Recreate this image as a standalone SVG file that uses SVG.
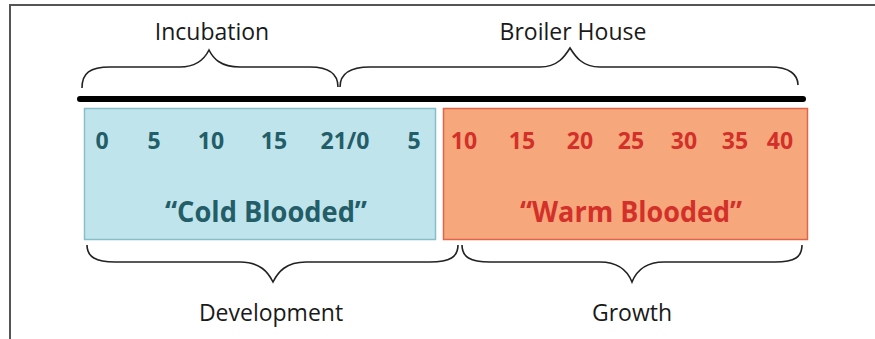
<svg xmlns="http://www.w3.org/2000/svg" width="875" height="339" viewBox="0 0 875 339">
<style>
.lbl{font-family:"Open Sans","Liberation Sans",sans-serif;font-size:23px;fill:#1a1a1a;text-anchor:middle}
.num{font-family:"Open Sans","Liberation Sans",sans-serif;font-size:23px;font-weight:bold;text-anchor:middle}
.big{font-family:"Open Sans","Liberation Sans",sans-serif;font-size:29px;font-weight:bold;text-anchor:middle}
.cold{fill:#235d67}
.warm{fill:#d3302a}
.brace{fill:none;stroke:#222;stroke-width:1.6}
</style>
<rect width="875" height="339" fill="#fff"/>
<path d="M10,339 V5 H875" fill="none" stroke="#555" stroke-width="2"/>
<g id="timeline"><rect x="77" y="96" width="729" height="6" rx="3" fill="#000"/></g>
<g id="cold-blooded">
<rect x="84.5" y="108.5" width="351" height="131" fill="#c0e4ec" stroke="#86bfcb" stroke-width="1.5"/>
<g class="num cold">
<text x="102" y="149">0</text><text x="154" y="149">5</text><text x="211" y="149">10</text><text x="274" y="149">15</text><text x="345" y="149">21/0</text><text x="414" y="149">5</text>
</g>
<text class="big cold" x="266" y="222" textLength="202" lengthAdjust="spacingAndGlyphs">“Cold Blooded”</text>
</g>
<g id="warm-blooded">
<rect x="443.5" y="108.5" width="364" height="131" fill="#f6a87c" stroke="#e2654a" stroke-width="1.5"/>
<g class="num warm">
<text x="464" y="149">10</text><text x="522" y="149">15</text><text x="580" y="149">20</text><text x="631" y="149">25</text><text x="684" y="149">30</text><text x="735" y="149">35</text><text x="780" y="149">40</text>
</g>
<text class="big warm" x="631" y="222" textLength="222" lengthAdjust="spacingAndGlyphs">“Warm Blooded”</text>
</g>
<g id="connectors">
<path class="brace" d="M82,88 C82,73 90,67 110,67 L180,67 C198,67 205,58 209,50 C213,58 220,67 240,67 L310,67 C330,67 338,75 338,87"/>
<path class="brace" d="M340,87 C340,75 348,67 370,67 L540,67 C558,67 565,56 570,48 C575,56 582,67 600,67 L770,67 C790,67 798,75 798,85"/>
<path class="brace" d="M87,245 C87,257 96,262 115,262 L240,262 C260,262 268,272 273,282 C278,272 286,262 306,262 L430,262 C450,262 458,257 458,245"/>
<path class="brace" d="M462,245 C462,257 470,262 490,262 L600,262 C620,262 628,272 632,282 C636,272 644,262 664,262 L775,262 C795,262 802,257 802,245"/>
</g>
<g id="incubation"><text class="lbl" x="212" y="40">Incubation</text></g>
<g id="broiler-house"><text class="lbl" x="573" y="40">Broiler House</text></g>
<g id="development"><text class="lbl" x="271" y="321">Development</text></g>
<g id="growth"><text class="lbl" x="632" y="321">Growth</text></g>
</svg>
